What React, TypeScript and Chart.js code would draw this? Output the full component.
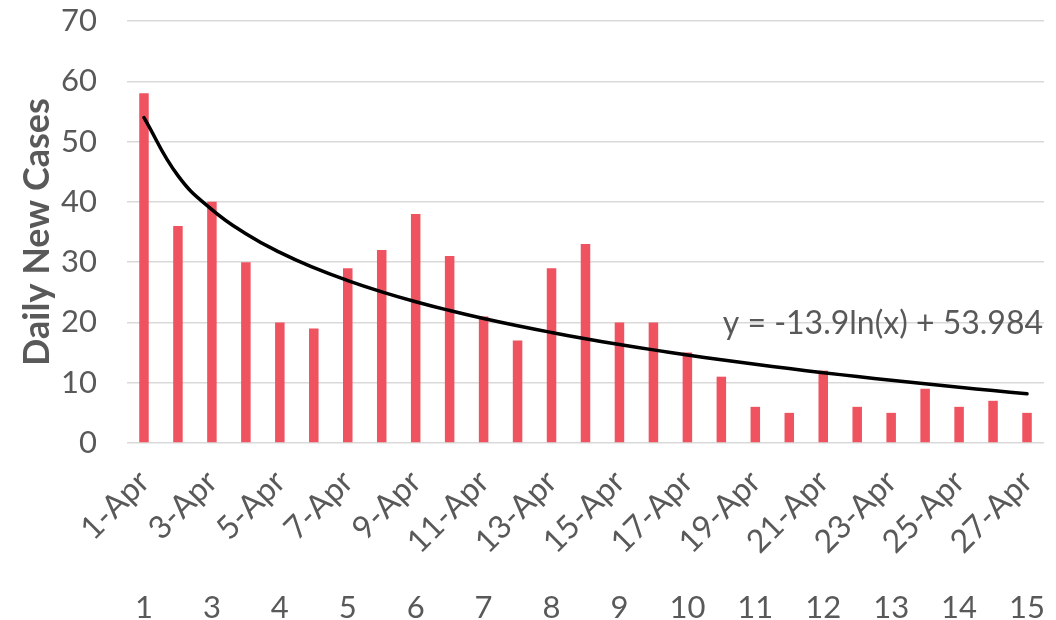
import React, { useEffect, useRef } from "react";
import { Chart, registerables } from "chart.js";

Chart.register(...registerables);

// ---- data ----
const categories: string[] = [
  "1-Apr", "2-Apr", "3-Apr", "4-Apr", "5-Apr", "6-Apr", "7-Apr", "8-Apr", "9-Apr",
  "10-Apr", "11-Apr", "12-Apr", "13-Apr", "14-Apr", "15-Apr", "16-Apr", "17-Apr",
  "18-Apr", "19-Apr", "20-Apr", "21-Apr", "22-Apr", "23-Apr", "24-Apr", "25-Apr",
  "26-Apr", "27-Apr",
];

const dailyNewCases: number[] = [
  58, 36, 40, 30, 20, 19, 29, 32, 38, 31, 21, 17, 29, 33, 20, 20, 15, 11, 6, 5, 12, 6, 5, 9, 6, 7, 5,
];

// logarithmic trendline values (y = -13.9ln(x) + 53.984)
const trendValues: number[] = [
  53.98, 44.35, 38.71, 34.71, 31.61, 29.08, 26.94, 25.08, 23.44, 21.98, 20.65, 19.44,
  18.33, 17.3, 16.34, 15.45, 14.6, 13.81, 13.06, 12.34, 11.67, 11.02, 10.4, 9.81,
  9.24, 8.7, 8.17,
];

const secondaryLabels: string[] = [
  "1", "", "3", "", "4", "", "5", "", "6", "", "7", "", "8", "", "9", "", "10", "",
  "11", "", "12", "", "13", "", "14", "", "15",
];

const yAxisTitle = "Daily New Cases";
const trendEquation = "y = -13.9ln(x) + 53.984";
const yMin = 0;
const yMax = 70;
const yStep = 10;

const FONT = "Lato, 'Noto Sans', sans-serif";
const TEXT = "#595959";

const equationPlugin = {
  id: "equationLabel",
  afterDraw(chart: any) {
    const { ctx, chartArea, scales } = chart;
    ctx.save();
    ctx.font = `32px ${FONT}`;
    ctx.fillStyle = TEXT;
    ctx.textAlign = "right";
    ctx.textBaseline = "middle";
    ctx.fillText(trendEquation, chartArea.right - 1, scales.y.getPixelForValue(20) + 1);
    ctx.restore();
  },
};

const zeroPad = (s: any) => {
  s.paddingTop = 0;
  s.paddingBottom = 0;
  s.paddingLeft = 0;
  s.paddingRight = 0;
};

export default function App() {
  const ref = useRef<HTMLCanvasElement | null>(null);

  useEffect(() => {
    if (!ref.current) return;
    const chart = new Chart(ref.current, {
      type: "bar",
      data: {
        labels: categories,
        datasets: [
          {
            type: "line",
            label: "Trend",
            data: trendValues,
            borderColor: "#000000",
            borderWidth: 3.5,
            pointRadius: 0,
            fill: false,
            tension: 0.45,
            borderCapStyle: "round",
            order: 0,
          } as any,
          {
            type: "bar",
            label: "Daily New Cases",
            data: dailyNewCases,
            backgroundColor: "#EF5360",
            barPercentage: 0.28,
            categoryPercentage: 1,
            order: 1,
          } as any,
        ],
      },
      options: {
        responsive: false,
        animation: false,
        layout: { padding: { left: 0, right: 12, top: 21, bottom: 0 } },
        plugins: {
          legend: { display: false },
          tooltip: { enabled: false },
        },
        scales: {
          x: {
            type: "category",
            position: "bottom",
            offset: true,
            grid: { display: false, drawTicks: false, tickLength: 0 },
            border: { display: false },
            ticks: {
              autoSkip: false,
              minRotation: 45,
              maxRotation: 45,
              padding: 20,
              color: TEXT,
              font: { family: FONT, size: 32 },
              callback: (_v: any, i: number) => (i % 2 === 0 ? categories[i] : ""),
            },
            afterFit: (s: any) => {
              s.height = 146;
              zeroPad(s);
            },
          },
          x2: {
            type: "category",
            position: "bottom",
            labels: secondaryLabels,
            offset: true,
            grid: { display: false, drawTicks: false, tickLength: 0 },
            border: { display: false },
            ticks: {
              autoSkip: false,
              maxRotation: 0,
              minRotation: 0,
              padding: 0,
              color: TEXT,
              font: { family: FONT, size: 31 },
            },
            afterFit: (s: any) => {
              s.height = 31;
              zeroPad(s);
            },
          },
          y: {
            min: yMin,
            max: yMax,
            ticks: {
              stepSize: yStep,
              padding: 30,
              color: TEXT,
              font: { family: FONT, size: 31 },
            },
            grid: { color: "#d9d9d9", lineWidth: 1.5, drawTicks: false },
            border: { display: false },
            title: {
              display: true,
              text: yAxisTitle,
              color: TEXT,
              font: { family: FONT, size: 36, weight: "bold" },
              padding: { top: 16, bottom: 0 },
            },
            afterFit: (s: any) => {
              s.width = 127;
              zeroPad(s);
            },
          },
        },
      } as any,
      plugins: [equationPlugin],
    });
    return () => chart.destroy();
  }, []);

  return (
    <div style={{ position: "fixed", left: 0, top: 0, width: 1056, height: 620, background: "#fff" }}>
      <canvas ref={ref} width={1056} height={620} style={{ display: "block" }} />
    </div>
  );
}
